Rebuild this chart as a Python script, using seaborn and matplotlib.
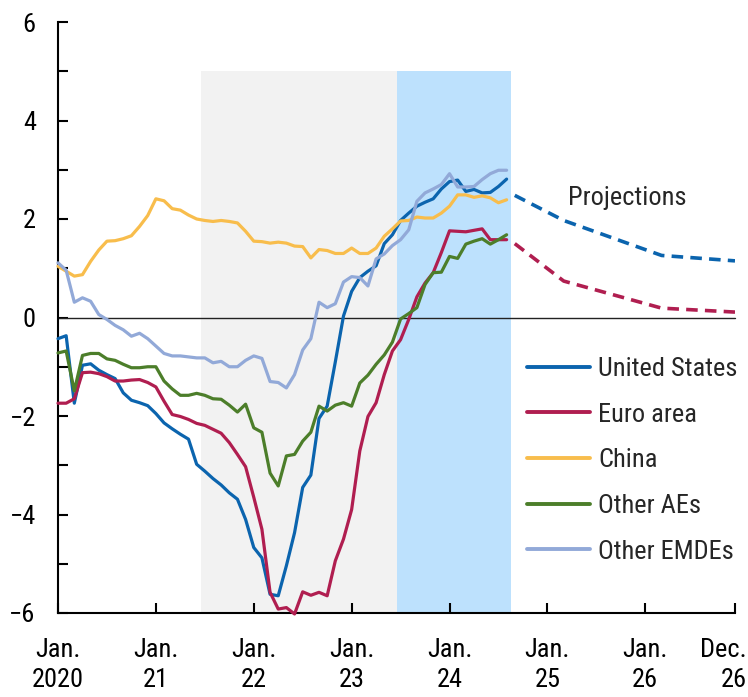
import matplotlib
matplotlib.use("Agg")
import matplotlib.pyplot as plt
import matplotlib.transforms as mtransforms
import seaborn as sns
import numpy as np
import pandas as pd
from matplotlib import font_manager as fm

# ---------------- data ----------------
months = list(range(56))  # Jan 2020 .. Aug 2024 (month index)

united_states = [-0.43, -0.37, -1.74, -0.97, -0.94, -1.07, -1.16, -1.24, -1.53, -1.68,
                 -1.73, -1.79, -1.95, -2.14, -2.26, -2.37, -2.47, -2.98, -3.12, -3.27,
                 -3.40, -3.56, -3.69, -4.10, -4.67, -4.88, -5.62, -5.65, -5.04, -4.37,
                 -3.45, -3.20, -2.05, -1.80, -0.90, 0.03, 0.53, 0.81, 0.94, 1.05,
                 1.50, 1.68, 1.97, 2.12, 2.26, 2.34, 2.41, 2.61, 2.76, 2.79,
                 2.56, 2.60, 2.53, 2.54, 2.66, 2.81]
euro_area = [-1.74, -1.74, -1.65, -1.12, -1.11, -1.14, -1.20, -1.29, -1.29, -1.27,
             -1.26, -1.32, -1.41, -1.70, -1.97, -2.01, -2.07, -2.15, -2.19, -2.27,
             -2.35, -2.54, -2.78, -3.03, -3.65, -4.30, -5.58, -5.92, -5.89, -6.02,
             -5.57, -5.64, -5.58, -5.65, -4.94, -4.50, -3.90, -2.71, -2.01, -1.73,
             -1.16, -0.68, -0.45, -0.04, 0.42, 0.70, 0.91, 1.32, 1.76, 1.75,
             1.74, 1.77, 1.80, 1.58, 1.58, 1.58]
china = [1.04, 0.94, 0.84, 0.87, 1.14, 1.37, 1.55, 1.56, 1.60, 1.66,
         1.85, 2.07, 2.41, 2.37, 2.21, 2.18, 2.08, 2.00, 1.97, 1.95,
         1.97, 1.95, 1.92, 1.75, 1.55, 1.54, 1.51, 1.53, 1.51, 1.45,
         1.44, 1.21, 1.38, 1.36, 1.30, 1.30, 1.41, 1.30, 1.30, 1.41,
         1.65, 1.80, 1.96, 1.97, 2.04, 2.02, 2.02, 2.12, 2.26, 2.49,
         2.49, 2.44, 2.47, 2.43, 2.33, 2.39]
other_aes = [-0.72, -0.68, -1.49, -0.77, -0.73, -0.73, -0.84, -0.87, -0.95, -1.02,
             -1.02, -1.00, -1.00, -1.29, -1.45, -1.58, -1.58, -1.54, -1.58, -1.65,
             -1.66, -1.78, -1.92, -1.76, -2.24, -2.33, -3.16, -3.42, -2.81, -2.78,
             -2.51, -2.33, -1.80, -1.90, -1.78, -1.73, -1.80, -1.33, -1.17, -0.95,
             -0.76, -0.50, -0.03, 0.08, 0.20, 0.67, 0.91, 0.92, 1.24, 1.20,
             1.49, 1.55, 1.60, 1.49, 1.58, 1.68]
other_emdes = [1.11, 0.96, 0.31, 0.40, 0.33, 0.06, -0.04, -0.16, -0.25, -0.38,
               -0.32, -0.43, -0.58, -0.73, -0.78, -0.78, -0.80, -0.82, -0.82, -0.92,
               -0.89, -1.00, -1.00, -0.87, -0.78, -0.83, -1.30, -1.32, -1.43, -1.16,
               -0.66, -0.43, 0.31, 0.20, 0.28, 0.72, 0.83, 0.81, 0.64, 1.19,
               1.29, 1.46, 1.58, 1.78, 2.36, 2.53, 2.61, 2.70, 2.92, 2.65,
               2.65, 2.66, 2.80, 2.92, 2.99, 2.99]

proj_months = [56, 62, 74, 83]
us_projection = [2.48, 1.97, 1.26, 1.15]
euro_projection = [1.50, 0.74, 0.19, 0.11]

series_names = ["United States", "Euro area", "China", "Other AEs", "Other EMDEs"]
series_colors = ["#0B64AE", "#B01E50", "#F8BD4C", "#4C7E2A", "#92A9D8"]

tick_positions = [0, 12, 24, 36, 48, 60, 72, 83]
tick_labels = ["Jan.\n2020", "Jan.\n21", "Jan.\n22", "Jan.\n23", "Jan.\n24",
               "Jan.\n25", "Jan.\n26", "Dec.\n26"]

# ---------------- style ----------------
sns.set_style("white")
avail = {f.name for f in fm.fontManager.ttflist}
fam = [f for f in ["Liberation Sans Narrow", "Arial Narrow", "Roboto Condensed", "Liberation Sans"] if f in avail]
plt.rcParams["font.family"] = fam + ["DejaVu Sans"]
FS = 19

df = pd.DataFrame({
    "month": months * 5,
    "value": united_states + euro_area + china + other_aes + other_emdes,
    "series": sum([[n] * len(months) for n in series_names], []),
})
proj = pd.DataFrame({
    "month": proj_months * 2,
    "value": us_projection + euro_projection,
    "series": ["United States"] * len(proj_months) + ["Euro area"] * len(proj_months),
})

fig = plt.figure(figsize=(7.48, 6.97), dpi=100)
ax = fig.add_axes([58 / 748, 1 - 613 / 697, (735 - 58) / 748, (613 - 22) / 697])

# shaded periods
ax.axvspan(17.5, 41.5, ymin=0, ymax=11 / 12, color="#F2F2F2", lw=0, zorder=0)
ax.axvspan(41.5, 55.5, ymin=0, ymax=11 / 12, color="#BDE1FD", lw=0, zorder=0)
ax.axhline(0, color="#222222", lw=1.0, zorder=1)

palette = dict(zip(series_names, series_colors))
sns.lineplot(data=df, x="month", y="value", hue="series", hue_order=series_names,
             palette=palette, lw=2.3, ax=ax, legend=True, zorder=3)
for line in ax.lines:
    line.set_clip_on(False)
sns.lineplot(data=proj, x="month", y="value", hue="series",
             hue_order=["United States", "Euro area"], palette=palette,
             lw=2.6, ax=ax, legend=False, zorder=3, dashes=False)
for line in ax.lines[-2:]:
    line.set_linestyle((0, (3.2, 2.0)))

ax.set_xlim(0, 83)
ax.set_ylim(-6, 6)
ax.set_xlabel("")
ax.set_ylabel("")

ax.set_yticks(np.arange(-6, 7, 1))
ax.set_yticklabels([("\u2212" + str(-v) if v < 0 else str(v)) if v % 2 == 0 else ""
                    for v in range(-6, 7)], fontsize=FS)
ax.set_xticks(tick_positions)
ax.set_xticklabels(tick_labels, fontsize=FS, linespacing=1.3)
ax.xaxis.get_major_ticks()[-1].tick1line.set_visible(False)
ax.tick_params(axis="y", direction="in", length=7, width=1.5, pad=16, colors="black", left=True)
ax.tick_params(axis="x", direction="in", length=7, width=1.5, pad=18, colors="black", bottom=True)

last = ax.get_xticklabels()[-1]
last.set_horizontalalignment("right")
last.set_transform(last.get_transform() + mtransforms.ScaledTranslation(12 / 100, 0, fig.dpi_scale_trans))

for s in ["top", "right"]:
    ax.spines[s].set_visible(False)
for s in ["left", "bottom"]:
    ax.spines[s].set_color("black")
    ax.spines[s].set_linewidth(1.5)

ax.text(69.8, 2.43, "Projections", fontsize=FS, ha="center", va="center")

handles, labels = ax.get_legend_handles_labels()
leg = ax.legend(handles[:5], labels[:5], loc="upper left",
                bbox_to_anchor=(527 / 748, 1 - 357 / 697), bbox_transform=fig.transFigure,
                frameon=False, fontsize=FS, handlelength=2.4, handletextpad=0.3,
                labelspacing=0.82, borderpad=0, borderaxespad=0)
for h in leg.get_lines():
    h.set_linewidth(2.8)

fig.savefig("out.png", dpi=100)
